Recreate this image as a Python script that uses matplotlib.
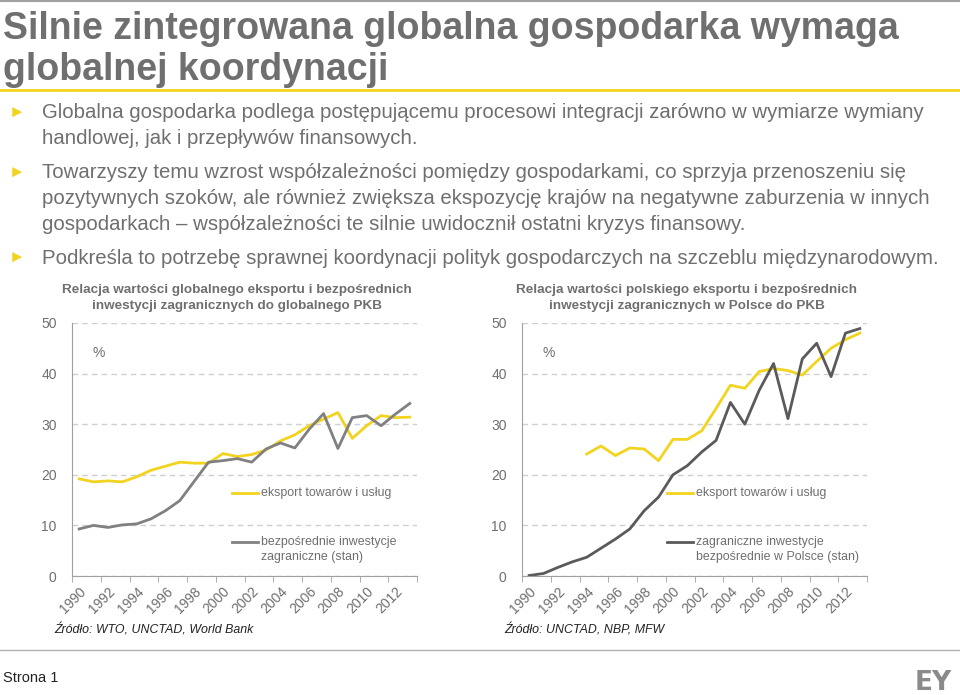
import matplotlib
matplotlib.use("Agg")
import matplotlib.pyplot as plt
from matplotlib.lines import Line2D

plt.rcParams['font.family'] = ['Liberation Sans', 'DejaVu Sans']

# dane
lata = list(range(1990, 2014))
eksport_swiat = [19.2, 18.6, 18.8, 18.6, 19.6, 20.9, 21.7, 22.5, 22.3, 22.3, 24.2, 23.6,
                 24.0, 24.9, 26.7, 27.9, 29.7, 31.0, 32.3, 27.2, 29.7, 31.7, 31.3, 31.4]
bit_swiat = [9.3, 10.0, 9.6, 10.1, 10.3, 11.3, 12.9, 14.9, 18.7, 22.5, 22.8, 23.2,
             22.5, 25.1, 26.3, 25.3, 29.0, 32.1, 25.2, 31.3, 31.7, 29.7, 32.0, 34.1]
eksport_pl = [None, None, None, None, 24.1, 25.7, 23.8, 25.3, 25.1, 22.8, 27.0, 27.0,
              28.7, 33.1, 37.7, 37.1, 40.4, 41.0, 40.6, 39.7, 42.4, 45.0, 46.7, 48.0]
bit_pl = [0.1, 0.5, 1.7, 2.8, 3.7, 5.5, 7.3, 9.3, 12.9, 15.6, 20.0, 21.8,
          24.5, 26.8, 34.3, 30.0, 36.7, 42.0, 31.1, 42.9, 46.0, 39.4, 48.0, 48.9]

SZARY = '#6f6f6f'
ZOLTY = '#f2d41f'

fig = plt.figure(figsize=(9.6, 6.95), dpi=100)
W, H = 960, 695

def fx(px):
    return px / W

def fy(py):
    return 1 - py / H

# linie ozdobne
fig.add_artist(Line2D([0, 1], [fy(1), fy(1)], color='#a0a0a0', lw=1.5))
fig.add_artist(Line2D([0, 1], [fy(90), fy(90)], color=ZOLTY, lw=2))
fig.add_artist(Line2D([0, 1], [fy(650), fy(650)], color='#b0b0b0', lw=1))

# tytul
fig.text(fx(3), fy(29), 'Silnie zintegrowana globalna gospodarka wymaga', fontsize=27,
         fontweight='bold', color=SZARY, va='center')
fig.text(fx(3), fy(70), 'globalnej koordynacji', fontsize=27,
         fontweight='bold', color=SZARY, va='center')

# punkty
punkty = [
    (113, ['Globalna gospodarka podlega postępującemu procesowi integracji zarówno w wymiarze wymiany',
           'handlowej, jak i przepływów finansowych.']),
    (173, ['Towarzyszy temu wzrost współzależności pomiędzy gospodarkami, co sprzyja przenoszeniu się',
           'pozytywnych szoków, ale również zwiększa ekspozycję krajów na negatywne zaburzenia w innych',
           'gospodarkach – współzależności te silnie uwidocznił ostatni kryzys finansowy.']),
    (258, ['Podkreśla to potrzebę sprawnej koordynacji polityk gospodarczych na szczeblu międzynarodowym.']),
]
for y0, linie in punkty:
    fig.text(fx(9), fy(y0), '►', fontsize=12, color=ZOLTY, va='center')
    for i, t in enumerate(linie):
        fig.text(fx(42), fy(y0 + i * 25.5), t, fontsize=14.7, color=SZARY, va='center')


def wykres(left_px, tytul, s1, s2, kolor2, etyk1, etyk2, zrodlo, leg_x):
    ax = fig.add_axes([fx(left_px), fy(576), fx(345), (576 - 323) / H])
    x = list(range(len(lata)))
    ax.plot(x, [v if v is not None else float('nan') for v in s1], color=ZOLTY, lw=2)
    ax.plot(x, s2, color=kolor2, lw=2)
    ax.set_xlim(-0.5, len(lata) - 0.5)
    ax.set_ylim(0, 50)
    ax.set_yticks([0, 10, 20, 30, 40, 50])
    ax.grid(axis='y', color='#cfcfcf', ls=(0, (4, 3)), lw=1)
    ax.set_axisbelow(True)
    ax.set_xticks(x[::2])
    ax.set_xticklabels([str(r) for r in lata[::2]], rotation=45, ha='right',
                       rotation_mode='anchor')
    ax.set_xticks([i - 0.5 for i in range(0, len(lata) + 1, 2)], minor=True)
    ax.tick_params(axis='x', which='major', length=0, labelsize=10, labelcolor=SZARY, pad=6)
    ax.tick_params(axis='x', which='minor', length=4, color='#a0a0a0')
    ax.tick_params(axis='y', length=0, labelsize=10, labelcolor=SZARY, pad=11)
    for s in ['top', 'right']:
        ax.spines[s].set_visible(False)
    for s in ['left', 'bottom']:
        ax.spines[s].set_color('#a0a0a0')
    ax.text(0.06, 0.88, '%', transform=ax.transAxes, fontsize=10, color=SZARY, va='center')
    cx = left_px + 165
    fig.text(fx(cx), fy(290), tytul[0], fontsize=9.7, fontweight='bold', color=SZARY,
             ha='center', va='center')
    fig.text(fx(cx), fy(306), tytul[1], fontsize=9.7, fontweight='bold', color=SZARY,
             ha='center', va='center')
    # legenda
    fig.add_artist(Line2D([fx(leg_x), fx(leg_x + 26)], [fy(493), fy(493)], color=ZOLTY, lw=2))
    fig.text(fx(leg_x + 29), fy(493), etyk1, fontsize=8.9, color=SZARY, va='center')
    fig.add_artist(Line2D([fx(leg_x), fx(leg_x + 26)], [fy(542), fy(542)], color=kolor2, lw=2))
    fig.text(fx(leg_x + 29), fy(542), etyk2[0], fontsize=8.9, color=SZARY, va='center')
    fig.text(fx(leg_x + 29), fy(557), etyk2[1], fontsize=8.9, color=SZARY, va='center')
    fig.text(fx(left_px - 18), fy(630), zrodlo, fontsize=8.9, style='italic', color='#222222',
             va='center')
    return ax


wykres(72, ['Relacja wartości globalnego eksportu i bezpośrednich',
            'inwestycji zagranicznych do globalnego PKB'],
       eksport_swiat, bit_swiat, '#808080', 'eksport towarów i usług',
       ['bezpośrednie inwestycje', 'zagraniczne (stan)'],
       'Źródło: WTO, UNCTAD, World Bank', 232)

wykres(522, ['Relacja wartości polskiego eksportu i bezpośrednich',
             'inwestycji zagranicznych w Polsce do PKB'],
       eksport_pl, bit_pl, '#5a5a5a', 'eksport towarów i usług',
       ['zagraniczne inwestycje', 'bezpośrednie w Polsce (stan)'],
       'Źródło: UNCTAD, NBP, MFW', 667)

# stopka
fig.text(fx(3), fy(678), 'Strona 1', fontsize=10.5, color='#222222', va='center')
fig.text(fx(952), fy(690), 'EY', fontsize=19, fontweight='bold', color='#8a8a8a',
         ha='right', va='baseline', family='DejaVu Sans')

fig.savefig('out.png', dpi=100, facecolor='white')
